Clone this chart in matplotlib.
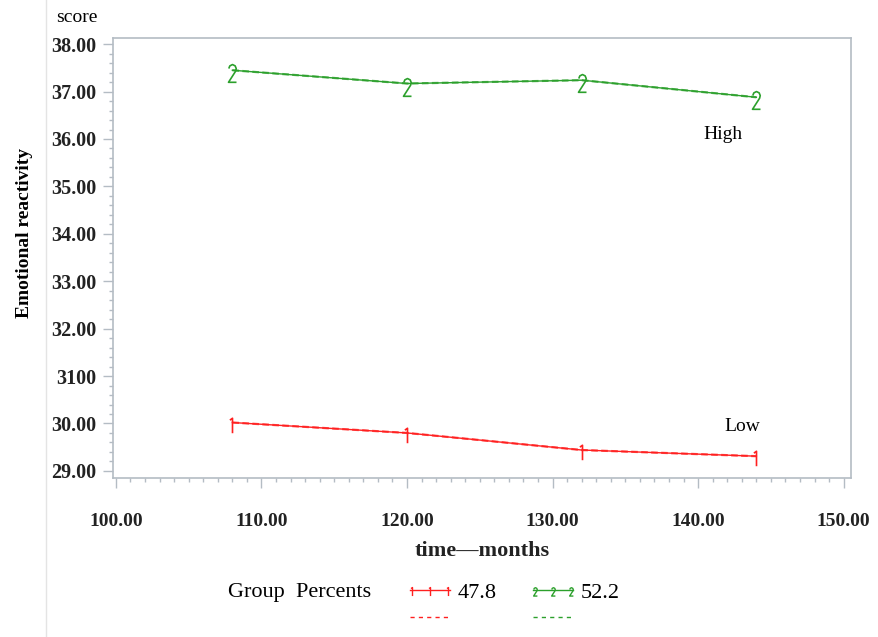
import matplotlib
matplotlib.use("Agg")
import matplotlib.pyplot as plt
from matplotlib.lines import Line2D
from matplotlib.path import Path
from matplotlib.ticker import MultipleLocator, FixedLocator

months = [108, 120, 132, 144]
high_vals = [37.45, 37.17, 37.24, 36.88]
low_vals = [30.02, 29.80, 29.44, 29.31]
group_labels = ["47.8", "52.2"]
yticks = [29, 30, 31, 32, 33, 34, 35, 36, 37, 38]
ytick_labels = ["29.00", "30.00", "3100", "32.00", "33.00", "34.00", "35.00", "36.00", "37.00", "38.00"]
xticks = [100, 110, 120, 130, 140, 150]
xtick_labels = ["100.00", "110.00", "120.00", "130.00", "140.00", "150.00"]

RED = "#ff2020"
GREEN = "#2ca02c"
SPINE = "#b4bcc4"
SERIF = "Liberation Serif"

# "1" glyph marker: vertical stroke with a small flag at the top
one_path = Path([(0, -1.3), (0, 0.7), (-0.35, 0.45)],
                [Path.MOVETO, Path.LINETO, Path.LINETO])
# "2" glyph marker: top curve, diagonal, base
_two = [(-0.42, 0.55), (-0.3, 0.85), (0.0, 1.0), (0.3, 0.85), (0.42, 0.55),
        (0.35, 0.25), (-0.45, -1.0), (0.45, -1.0)]
two_path = Path([(x, y - 0.33) for x, y in _two],
                [Path.MOVETO] + [Path.LINETO] * (len(_two) - 1))

fig = plt.figure(figsize=(8.79, 6.37), dpi=100)
ax = fig.add_axes([113/879, 1-478/637, (851-113)/879, (478-38)/637])

ax.plot(months, high_vals, color=GREEN, lw=1.0)
ax.plot(months, high_vals, color=GREEN, lw=1.6, ls=(0, (3, 1.5)), alpha=0.8)
ax.plot(months, high_vals, ls="none", marker=two_path, color=GREEN, fillstyle="none",
        markersize=17, markeredgewidth=1.2)

ax.plot(months, low_vals, color=RED, lw=1.0)
ax.plot(months, low_vals, color=RED, lw=1.6, ls=(0, (3, 1.5)), alpha=0.8)
ax.plot(months, low_vals, ls="none", marker=one_path, color=RED, fillstyle="none",
        markersize=14, markeredgewidth=1.2)

ax.text(141.7, 36.1, "High", family="Liberation Serif", fontsize=14, ha="center", va="center")
ax.text(143.0, 29.94, "Low", family="Liberation Serif", fontsize=14, ha="center", va="center")

ax.set_xlim(99.8, 150.5)
ax.set_ylim(28.85, 38.13)
ax.xaxis.set_major_locator(FixedLocator(xticks))
ax.set_xticklabels(xtick_labels, family=SERIF, fontsize=14, fontweight="bold", color="#222222")
ax.xaxis.set_minor_locator(MultipleLocator(1))
ax.yaxis.set_major_locator(FixedLocator(yticks))
ax.set_yticklabels(ytick_labels, family=SERIF, fontsize=14.5, fontweight="bold", color="#222222")
ax.yaxis.set_minor_locator(MultipleLocator(0.2))
ax.tick_params(axis="both", which="major", length=7, width=1, color=SPINE, direction="out", pad=5)
ax.tick_params(axis="both", which="minor", length=3, width=1, color=SPINE, direction="out")
ax.tick_params(axis="x", which="major", pad=18)
for s in ax.spines.values():
    s.set_color(SPINE)
    s.set_linewidth(1.2)

fig.text(25/879, 1-233/637, "Emotional reactivity", rotation=90, family="Liberation Serif",
         fontweight="bold", fontsize=14, ha="center", va="center")
fig.text(77/879, 1-18/637, "score", family=SERIF, fontsize=14, ha="center", va="center")
fig.text(482/879, 1-551/637, "time\u2014months", family=SERIF, fontsize=16, fontweight="bold",
         color="#222222", ha="center", va="center")

# legend
fig.text(300/879, 1-593/637, "Group  Percents", family="Liberation Serif", fontsize=16,
         ha="center", va="center")
for x0, col, lab, mk in [(410, RED, group_labels[0], one_path),
                         (533, GREEN, group_labels[1], two_path)]:
    xs = [(x0+2)/879, (x0+20)/879, (x0+38)/879]
    fig.add_artist(Line2D([x0/879, (x0+40)/879], [1-590/637]*2, color=col, lw=1.0))
    fig.add_artist(Line2D(xs, [1-590/637]*3, ls="none", marker=mk, color=col,
                          fillstyle="none", markersize=8, markeredgewidth=1.0))
    fig.add_artist(Line2D([x0/879, (x0+40)/879], [1-617/637]*2, color=col, lw=1.0,
                          ls=(0, (3, 3))))
    fig.text((x0+48)/879, 1-593/637, lab, family=SERIF, fontsize=16, ha="left", va="center")

fig.add_artist(Line2D([46/879, 46/879], [0, 1], color="#e4e4e4", lw=1))

fig.savefig("out.png", dpi=100)
